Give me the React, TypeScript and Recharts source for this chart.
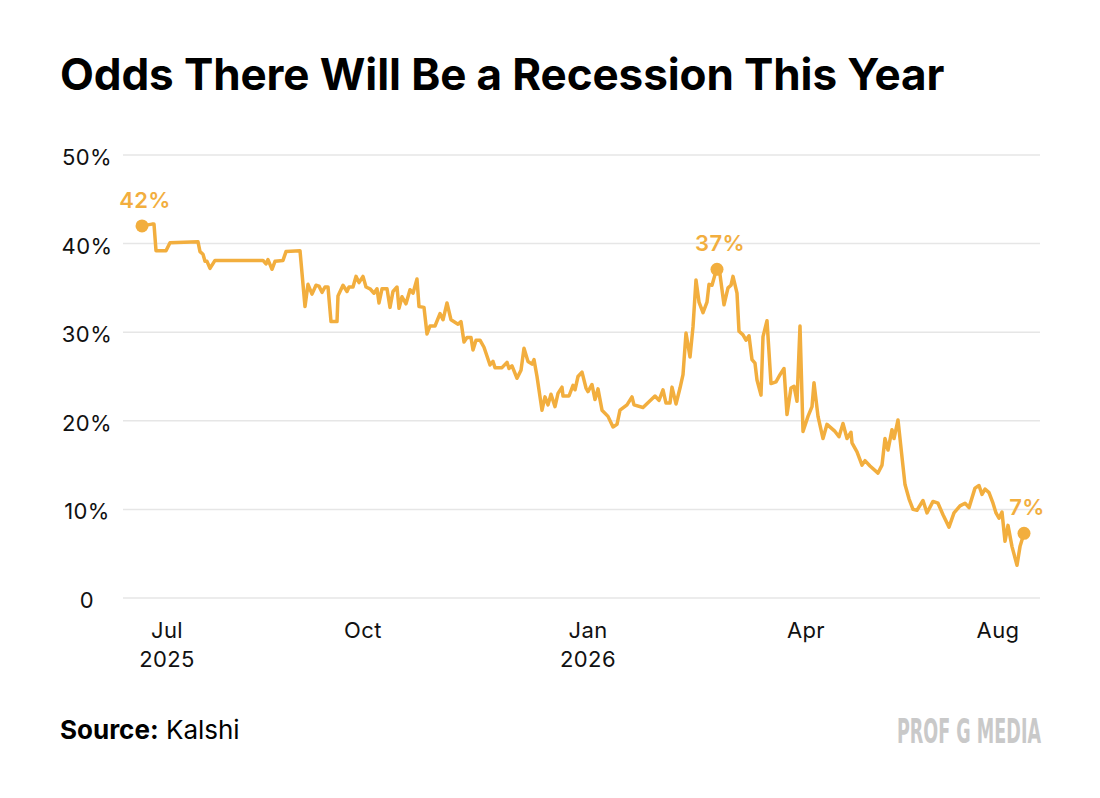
import { CartesianGrid, Line, LineChart, XAxis, YAxis } from "recharts";

// observation index along the x axis, odds in %
const ODDS: [number, number][] = [
  [0, 42.0], [10, 42.2], [12, 42.2], [14, 39.2], [24, 39.2], [28, 40.1],
  [56, 40.2], [58, 39.1], [61, 38.8], [63, 38.0], [65, 38.0], [68, 37.2],
  [73, 38.1], [121, 38.1], [124, 37.7], [126, 38.2], [130, 37.1], [133, 38.0],
  [141, 38.1], [144, 39.1], [158, 39.2], [163, 32.9], [166, 35.4], [170, 34.3],
  [174, 35.3], [177, 35.2], [180, 34.5], [183, 35.1], [186, 35.1], [189, 31.2],
  [195, 31.2], [196, 34.1], [201, 35.3], [205, 34.6], [207, 35.1], [211, 35.1],
  [214, 36.3], [217, 35.6], [221, 36.3], [224, 35.1], [228, 34.9], [232, 34.4],
  [235, 34.9], [237, 33.3], [240, 34.9], [245, 34.9], [248, 32.8], [251, 34.6],
  [255, 35.1], [257, 32.7], [260, 34.0], [264, 33.2], [268, 34.8], [271, 34.4],
  [275, 36.0], [277, 32.9], [282, 32.8], [285, 29.8], [288, 30.7], [293, 30.7],
  [298, 32.1], [301, 31.4], [305, 33.3], [309, 31.4], [316, 30.9], [319, 31.2],
  [322, 28.9], [325, 29.4], [329, 29.4], [331, 28.0], [334, 29.1], [338, 29.1],
  [342, 28.3], [348, 26.3], [351, 26.7], [353, 26.0], [360, 26.0], [365, 26.6],
  [367, 25.9], [370, 26.2], [375, 24.8], [379, 25.7], [382, 28.2], [386, 26.7],
  [390, 26.4], [392, 26.9], [395, 25.0], [400, 21.2], [403, 22.7], [406, 21.8],
  [409, 23.0], [413, 21.6], [416, 23.1], [420, 23.8], [421, 22.8], [427, 22.8],
  [431, 24.0], [433, 23.5], [436, 25.0], [440, 25.5], [444, 23.7], [446, 23.3],
  [450, 24.1], [453, 22.4], [456, 23.6], [460, 21.2], [466, 20.5], [471, 19.3],
  [475, 19.6], [478, 21.2], [485, 21.8], [490, 22.7], [492, 21.8], [501, 21.5],
  [513, 22.8], [517, 22.3], [521, 23.5], [524, 22.0], [528, 22.0], [530, 23.8],
  [534, 21.9], [538, 23.7], [541, 25.2], [544, 29.9], [548, 27.2], [551, 30.6],
  [554, 35.9], [557, 33.4], [561, 32.2], [565, 33.4], [567, 35.4], [570, 35.3],
  [573, 36.5], [575, 37.1], [578, 36.5], [582, 33.1], [586, 35.0], [589, 35.3],
  [591, 36.3], [595, 34.4], [597, 30.1], [601, 29.7], [604, 29.1], [607, 29.6],
  [610, 26.9], [613, 26.5], [615, 24.6], [619, 22.9], [621, 29.5], [625, 31.3],
  [629, 24.2], [634, 24.4], [638, 25.2], [642, 25.9], [645, 20.7], [649, 23.7],
  [652, 23.9], [655, 22.2], [658, 30.7], [661, 18.8], [666, 20.5], [670, 21.6],
  [672, 24.3], [676, 20.5], [681, 18.0], [685, 19.6], [693, 18.8], [697, 18.2],
  [701, 19.7], [705, 18.0], [709, 18.7], [710, 17.5], [715, 16.5], [720, 15.0],
  [723, 15.5], [728, 14.9], [736, 14.1], [740, 15.0], [743, 18.0], [746, 16.7],
  [750, 19.0], [752, 18.0], [756, 20.1], [760, 15.9], [763, 12.8], [767, 11.2],
  [771, 10.0], [775, 9.9], [781, 11.0], [785, 9.6], [791, 10.9], [796, 10.7],
  [801, 9.4], [807, 8.0], [812, 9.6], [818, 10.4], [823, 10.7], [827, 10.2],
  [830, 11.3], [833, 12.4], [837, 12.7], [840, 11.7], [843, 12.3], [847, 11.9],
  [851, 10.7], [854, 9.6], [857, 9.0], [860, 9.7], [863, 6.4], [866, 8.2],
  [870, 5.8], [875, 3.7], [878, 5.8], [882, 7.3],
];

const ANNOTATED = [0, 575, 882];

const X_TICKS = [25, 221, 446, 664, 856];
const MONTHS = ["Jul", "Oct", "Jan", "Apr", "Aug"];
const YEARS = ["2025", "", "2026", "", ""];
const Y_TICKS = [0, 10, 20, 30, 40, 50];

const ORANGE = "#F2AE3E";
const FONT = "Inter, 'Noto Sans', sans-serif";

const data = ODDS.map(([t, v]) => ({ t, v }));

function MonthTick({ x, payload }: any) {
  const i = X_TICKS.indexOf(payload.value);
  return (
    <g>
      <text x={x} y={638} textAnchor="middle" fontSize={22} fill="#111" fontFamily={FONT} letterSpacing={0.4}>
        {MONTHS[i]}
      </text>
      {YEARS[i] && (
        <text x={x} y={667} textAnchor="middle" fontSize={22} fill="#111" fontFamily={FONT} letterSpacing={0.4}>
          {YEARS[i]}
        </text>
      )}
    </g>
  );
}

function PctTick({ y, payload }: any) {
  return (
    <text x={87} y={y + 10} textAnchor="middle" fontSize={22} fill="#111" fontFamily={FONT} letterSpacing={0.4}>
      {payload.value === 0 ? "0" : `${payload.value}%`}
    </text>
  );
}

function AnnotDot({ cx, cy, payload, index }: any) {
  if (!ANNOTATED.includes(payload.t)) return <g key={index} />;
  return (
    <g key={index}>
      <circle cx={cx} cy={cy} r={6.5} fill={ORANGE} />
      <text
        x={cx + 3}
        y={cy - 18}
        textAnchor="middle"
        fontSize={22}
        fontWeight={600}
        fill={ORANGE}
        fontFamily={FONT}
        letterSpacing={0.4}
      >
        {`${Math.round(payload.v)}%`}
      </text>
    </g>
  );
}

export default function App() {
  return (
    <div style={{ position: "absolute", left: 0, top: 0, width: 1100, height: 798, background: "#fff" }}>
      <LineChart width={1100} height={798} data={data} margin={{ top: 155, right: 60, left: 0, bottom: 0 }}>
        <CartesianGrid vertical={false} stroke="#e6e6e6" strokeWidth={1.5} />
        <XAxis
          dataKey="t"
          type="number"
          domain={[-19, 898]}
          ticks={X_TICKS}
          interval={0}
          height={200}
          axisLine={false}
          tickLine={false}
          tick={<MonthTick />}
        />
        <YAxis
          domain={[0, 50]}
          ticks={Y_TICKS}
          width={123}
          axisLine={false}
          tickLine={false}
          tick={<PctTick />}
        />
        <Line
          type="linear"
          dataKey="v"
          stroke={ORANGE}
          strokeWidth={3.5}
          strokeLinejoin="round"
          dot={AnnotDot}
          activeDot={false}
          isAnimationActive={false}
        />
      </LineChart>
      <svg width={1100} height={798} style={{ position: "absolute", left: 0, top: 0, pointerEvents: "none" }}>
        <text x={60} y={90} fontSize={44} fontWeight={700} fill="#000" fontFamily={FONT} letterSpacing={-0.1}>
          Odds There Will Be a Recession This Year
        </text>
        <text x={60} y={739} fontSize={26} fill="#000" fontFamily={FONT}>
          <tspan fontWeight={700}>Source:</tspan>
          <tspan> Kalshi</tspan>
        </text>
        <text
          transform="translate(897 743) scale(0.6 1)"
          x={0}
          y={0}
          fontSize={34}
          fontWeight={700}
          fill="#c9c9c9"
          fontFamily="'Liberation Sans Narrow', 'DejaVu Sans Condensed', sans-serif"
          textLength={240}
          lengthAdjust="spacingAndGlyphs"
        >
          PROF G MEDIA
        </text>
      </svg>
    </div>
  );
}
